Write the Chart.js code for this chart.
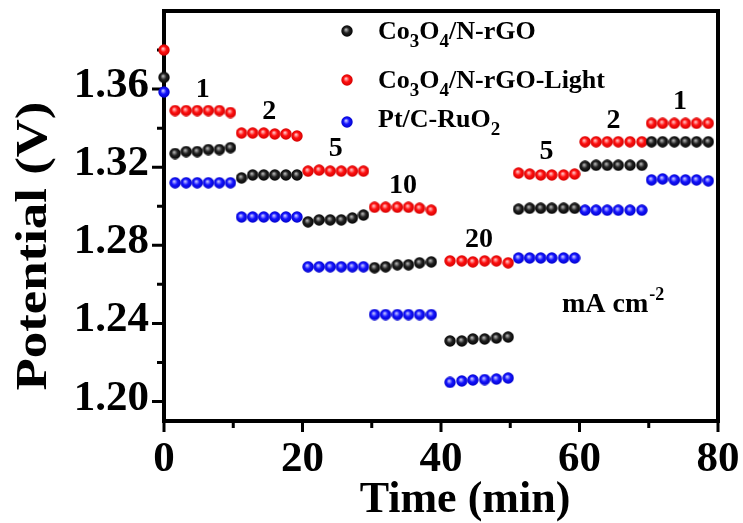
<!DOCTYPE html>
<html>
<head>
<meta charset="utf-8">
<script src="https://cdn.jsdelivr.net/npm/chart.js@4.4.1/dist/chart.umd.min.js"></script>
<style>
  html, body { margin: 0; padding: 0; background: #ffffff; }
  #wrap { width: 743px; height: 523px; }
</style>
</head>
<body>
<div id="wrap"><canvas id="chart" width="743" height="523"></canvas></div>
<script>
// Sampling times (min): one starting point, then six readings per current step
const timeMin = [
  0,
  1.6, 3.2, 4.8, 6.4, 8.0, 9.6,
  11.2, 12.8, 14.4, 16.0, 17.6, 19.2,
  20.8, 22.4, 24.0, 25.6, 27.2, 28.8,
  30.4, 32.0, 33.7, 35.3, 36.9, 38.6,
  41.3, 43.0, 44.6, 46.3, 48.0, 49.7,
  51.2, 52.8, 54.4, 56.0, 57.7, 59.3,
  60.8, 62.4, 64.0, 65.6, 67.3, 69.0,
  70.4, 72.0, 73.7, 75.3, 76.9, 78.6
];

// Potential (V) for each catalyst
const co3o4NrGO = [
  1.366,
  1.327, 1.328, 1.328, 1.329, 1.329, 1.330,
  1.3145, 1.316, 1.316, 1.316, 1.316, 1.316,
  1.292, 1.293, 1.293, 1.293, 1.294, 1.2955,
  1.2685, 1.269, 1.270, 1.270, 1.271, 1.2715,
  1.231, 1.231, 1.232, 1.232, 1.2325, 1.233,
  1.2985, 1.299, 1.299, 1.299, 1.299, 1.299,
  1.3205, 1.321, 1.321, 1.321, 1.321, 1.321,
  1.333, 1.333, 1.333, 1.333, 1.333, 1.333
];
const co3o4NrGOLight = [
  1.380,
  1.349, 1.349, 1.349, 1.349, 1.349, 1.348,
  1.3375, 1.3375, 1.3375, 1.337, 1.337, 1.336,
  1.318, 1.3185, 1.318, 1.318, 1.318, 1.318,
  1.2995, 1.2995, 1.2995, 1.2995, 1.299, 1.298,
  1.272, 1.272, 1.2715, 1.272, 1.272, 1.271,
  1.317, 1.3165, 1.316, 1.316, 1.316, 1.3165,
  1.333, 1.333, 1.333, 1.333, 1.333, 1.333,
  1.3425, 1.3425, 1.3425, 1.3425, 1.3425, 1.3425
];
const ptCRuO2 = [
  1.3585,
  1.312, 1.312, 1.312, 1.312, 1.312, 1.312,
  1.2945, 1.2945, 1.2945, 1.2945, 1.2945, 1.2945,
  1.269, 1.269, 1.269, 1.269, 1.269, 1.269,
  1.2445, 1.2445, 1.2445, 1.2445, 1.2445, 1.2445,
  1.2098, 1.2105, 1.211, 1.2112, 1.2115, 1.212,
  1.2735, 1.2735, 1.2735, 1.2735, 1.2735, 1.2735,
  1.298, 1.298, 1.298, 1.298, 1.298, 1.298,
  1.3135, 1.314, 1.3135, 1.3135, 1.3135, 1.313
];

// Current density of each step (mA cm-2)
const currentSteps = ['1', '2', '5', '10', '20', '5', '2', '1'];
const pointsPerStep = 6;

// Axis ticks
const xTickValues = [0, 20, 40, 60, 80];
const xTickLabels = ['0', '20', '40', '60', '80'];
const xMinorTicks = [10, 30, 50, 70];
const yTickValues = [1.20, 1.24, 1.28, 1.32, 1.36];
const yTickLabels = ['1.20', '1.24', '1.28', '1.32', '1.36'];
const yMinorTicks = [1.22, 1.26, 1.30, 1.34, 1.38];

const SERIF = '"Liberation Serif", "Times New Roman", serif';

// Shaded ball marker
function ballMarker(light, mid, dark) {
  const c = document.createElement('canvas');
  c.width = 12; c.height = 12;
  const g = c.getContext('2d');
  const grad = g.createRadialGradient(5, 4.6, 0.4, 6, 6, 6);
  grad.addColorStop(0, light);
  grad.addColorStop(0.45, mid);
  grad.addColorStop(1, dark);
  g.fillStyle = grad;
  g.beginPath();
  g.arc(6, 6, 5.7, 0, Math.PI * 2);
  g.fill();
  return c;
}
const markerBlack = ballMarker('#b0b0b0', '#222222', '#000000');
const markerRed = ballMarker('#ffc0c0', '#ff1010', '#d00000');
const markerBlue = ballMarker('#c0c0ff', '#1515ff', '#0000c8');

function toPoints(ys) {
  return ys.map((y, i) => ({ x: timeMin[i], y: y }));
}

const seriesList = [
  { name: ['Co', '3', 'O', '4', '/N-rGO'], values: co3o4NrGO, marker: markerBlack },
  { name: ['Co', '3', 'O', '4', '/N-rGO-Light'], values: co3o4NrGOLight, marker: markerRed },
  { name: ['Pt/C-RuO', '2'], values: ptCRuO2, marker: markerBlue }
];

// Frame and tick marks, drawn under the markers
const framePlugin = {
  id: 'frame',
  beforeDatasetsDraw(chart) {
    const { ctx, chartArea: a, scales: { x, y } } = chart;
    ctx.save();
    ctx.strokeStyle = '#000';
    ctx.lineCap = 'butt';
    ctx.lineWidth = 3;
    ctx.beginPath();
    xTickValues.forEach(v => { const px = x.getPixelForValue(v); ctx.moveTo(px, a.bottom); ctx.lineTo(px, a.bottom + 11); });
    xMinorTicks.forEach(v => { const px = x.getPixelForValue(v); ctx.moveTo(px, a.bottom); ctx.lineTo(px, a.bottom + 7); });
    yTickValues.forEach(v => { const py = y.getPixelForValue(v); ctx.moveTo(a.left, py); ctx.lineTo(a.left - 12, py); });
    yMinorTicks.forEach(v => { const py = y.getPixelForValue(v); ctx.moveTo(a.left, py); ctx.lineTo(a.left - 7, py); });
    ctx.stroke();
    ctx.lineWidth = 4;
    ctx.strokeRect(a.left, a.top, a.right - a.left, a.bottom - a.top);
    ctx.restore();
  },
  afterDraw(chart) {
    const { ctx, scales: { x, y } } = chart;
    ctx.save();
    ctx.fillStyle = '#000';

    // Axis titles
    ctx.font = 'bold 44px ' + SERIF;
    ctx.textAlign = 'center';
    ctx.textBaseline = 'alphabetic';
    ctx.fillText('Time (min)', 465, 512);
    ctx.save();
    ctx.translate(46, 246);
    ctx.rotate(-Math.PI / 2);
    ctx.scale(1.2, 1);
    ctx.fillText('Potential (V)', 0, 0);
    ctx.restore();

    // Current density of each step, above its highest trace
    ctx.font = 'bold 28px ' + SERIF;
    ctx.textBaseline = 'middle';
    currentSteps.forEach((lab, k) => {
      const s = 1 + k * pointsPerStep;
      const ts = timeMin.slice(s, s + pointsPerStep);
      const xc = x.getPixelForValue((ts[0] + ts[ts.length - 1]) / 2);
      let top = Infinity;
      seriesList.forEach(ser => {
        ser.values.slice(s, s + pointsPerStep).forEach(v => { top = Math.min(top, y.getPixelForValue(v)); });
      });
      ctx.fillText(lab, xc, top - 21);
    });

    // Unit note
    ctx.textAlign = 'left';
    ctx.textBaseline = 'alphabetic';
    ctx.font = 'bold 28px ' + SERIF;
    ctx.fillText('mA cm', 562, 312);
    const w = ctx.measureText('mA cm').width;
    ctx.font = 'bold 18px ' + SERIF;
    ctx.fillText('-2', 562 + w + 1, 300);

    // Legend
    const rows = [39, 88, 127];
    seriesList.forEach((ser, i) => {
      const by = rows[i];
      ctx.drawImage(ser.marker, 347 - 6, by - 8 - 6 + (i === 2 ? 3 : 0));
      let cx = 378;
      ser.name.forEach((part, j) => {
        const sub = j % 2 === 1;
        ctx.font = (sub ? 'bold 19px ' : 'bold 26px ') + SERIF;
        ctx.fillText(part, cx, sub ? by + 8 : by);
        cx += ctx.measureText(part).width;
      });
    });
    ctx.restore();
  }
};

new Chart(document.getElementById('chart'), {
  type: 'scatter',
  data: {
    datasets: seriesList.map(ser => ({
      label: ser.name.join(''),
      data: toPoints(ser.values),
      pointStyle: ser.marker,
      pointRadius: 6,
      showLine: false,
      clip: false
    }))
  },
  options: {
    responsive: false,
    animation: false,
    events: [],
    layout: { padding: { top: 11, right: 25, left: 0, bottom: 0 } },
    plugins: { legend: { display: false }, tooltip: { enabled: false } },
    scales: {
      x: {
        type: 'linear', position: 'bottom', min: 0, max: 80,
        grid: { display: false, drawTicks: false },
        border: { display: false },
        afterBuildTicks: s => { s.ticks = xTickValues.map(v => ({ value: v })); },
        afterFit: s => { s.height = 102; s.paddingLeft = 0; s.paddingRight = 0; },
        ticks: {
          autoSkip: false, maxRotation: 0, padding: 13, color: '#000',
          font: { family: SERIF, size: 43, weight: 'bold' },
          callback: (v, i) => xTickLabels[i]
        }
      },
      y: {
        type: 'linear', position: 'left', min: 1.19, max: 1.40,
        grid: { display: false, drawTicks: false },
        border: { display: false },
        afterBuildTicks: s => { s.ticks = yTickValues.map(v => ({ value: v })); },
        afterFit: s => { s.width = 164; s.paddingTop = 0; s.paddingBottom = 0; },
        ticks: {
          autoSkip: false, padding: 15, color: '#000', labelOffset: -3,
          font: { family: SERIF, size: 43, weight: 'bold' },
          callback: (v, i) => yTickLabels[i]
        }
      }
    }
  },
  plugins: [framePlugin]
});
</script>
</body>
</html>
